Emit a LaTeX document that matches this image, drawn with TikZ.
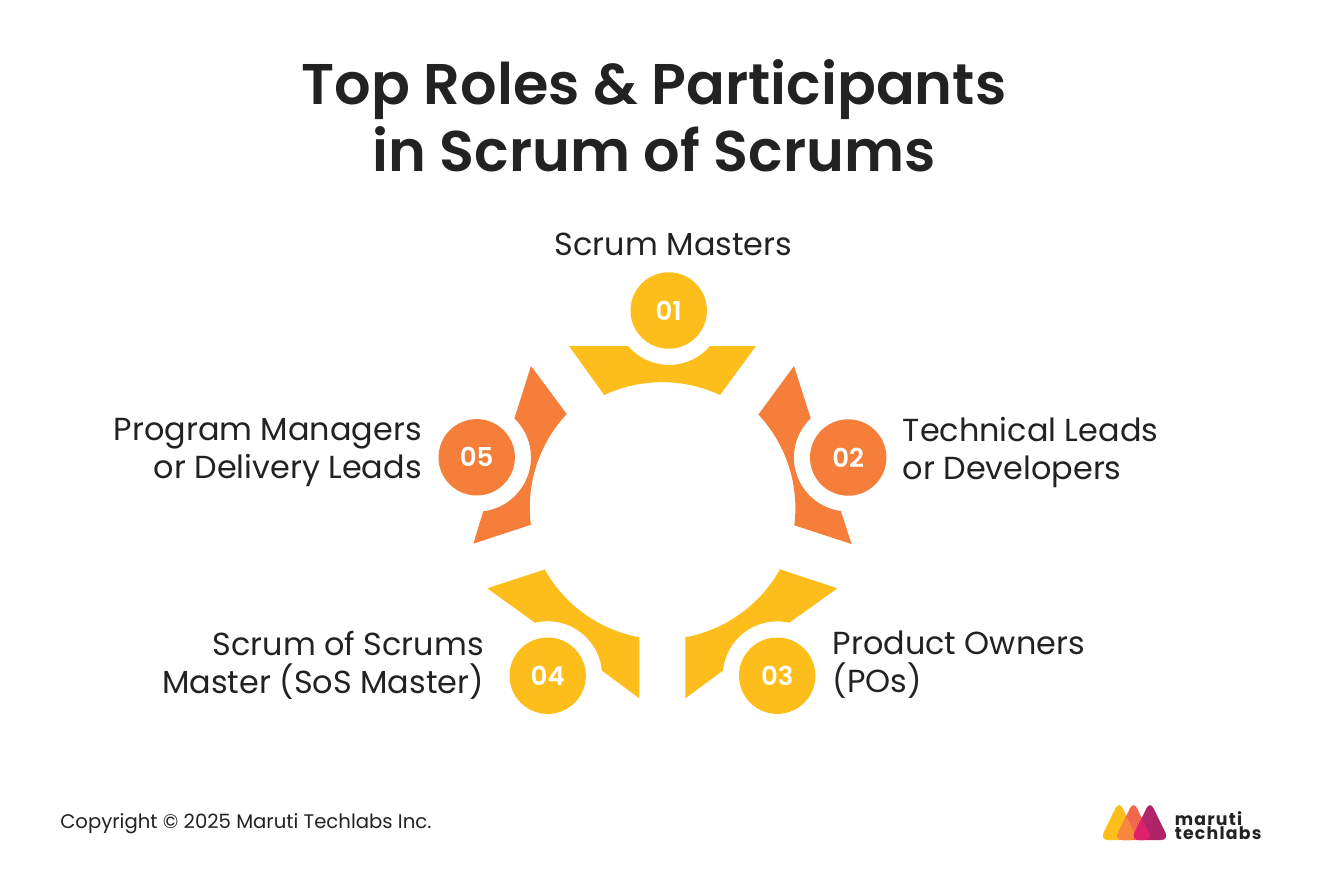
\documentclass[tikz,border=0pt]{standalone}
\usepackage{fontspec}
\setmainfont{Poppins}
\newfontfamily\semifont{Poppins SemiBold}
\definecolor{ink}{HTML}{222222}
\definecolor{sunny}{HTML}{FDBD1A}
\definecolor{tangerine}{HTML}{F47E3A}
\definecolor{logocoral}{HTML}{F2664F}
\definecolor{logomix}{HTML}{F6873C}
\definecolor{logomaroon}{HTML}{B0246A}
\definecolor{logopink}{HTML}{E01F6A}
\newcommand{\logodrop}[1]{[rounded corners=6pt] (#1-19,840) -- (#1,801) -- (#1+19,840) -- cycle}
\begin{document}
\begin{tikzpicture}[
    x=0.75pt, y=-0.75pt,
    title/.style={font=\fontsize{43}{50}\selectfont\semifont, align=center, text=ink, inner sep=0pt},
    role/.style={font=\fontsize{23.9}{28.5}\selectfont, text=ink, inner sep=0pt},
    badge/.style={circle, minimum size=57.3pt, inner sep=0pt, text=white, font=\fontsize{19.5}{19.5}\selectfont\semifont},
]
    \useasboundingbox (0,0) rectangle (1321,872);
    \fill[white] (0,0) rectangle (1321,872);

    \node[title] (heading) at (654,116) {Top Roles \& Participants\\in Scrum of Scrums};

    % petals, clockwise from the top
    \fill[sunny] (569,346) -- (628,346) arc[start angle=139.5, end angle=40.5, radius=54] -- (756,346) -- (720,395)
        arc[start angle=-65, end angle=-115, radius=137] -- cycle;
    \fill[tangerine] (794,366) -- (810.7,418.3) arc[start angle=226.5, end angle=97.4, radius=54] -- (851.5,544) -- (794.3,525.3)
        arc[start angle=7.2, end angle=-43.1, radius=137] -- cycle;
    \fill[sunny] (780,569.3) -- (837.3,588.3) -- (789.3,622.7) arc[start angle=-77.1, end angle=-174.6, radius=54.4] -- (685.3,698.3) -- (685.3,637.3)
        arc[start angle=79.5, end angle=29.1, radius=137] -- cycle;
    \fill[sunny] (545.3,569.3) -- (487.3,588.3) -- (535,622.7) arc[start angle=-103.5, end angle=-5.3, radius=54.4] -- (639.3,698.3) -- (639.3,637.3)
        arc[start angle=100.5, end angle=150.9, radius=137] -- cycle;
    \fill[tangerine] (531,366) -- (566.7,414) arc[start angle=223.1, end angle=172.8, radius=137] -- (473.3,543.7) -- (483.3,511.3)
        arc[start angle=83, end angle=-46, radius=54.3] -- cycle;

    \node[badge, fill=sunny] (one) at (668.7,310.5) {\raisebox{-1pt}{01}};
    \node[badge, fill=tangerine] (two) at (848.2,457.5) {\raisebox{-1pt}{02}};
    \node[badge, fill=sunny] (three) at (777.2,675.7) {\raisebox{-1pt}{03}};
    \node[badge, fill=sunny] (four) at (547.7,675.7) {\raisebox{-1pt}{04}};
    \node[badge, fill=tangerine] (five) at (476.7,457.3) {\raisebox{-1pt}{05}};

    \node[role, anchor=base] (masters) at (673.5,255) {Scrum Masters};
    \node[role, anchor=west, align=left] (leads) at (902.5,452.5) {Technical Leads\\or Developers};
    \node[role, anchor=west, align=left] (owners) at (832.5,665) {Product Owners\\(POs)};
    \node[role, anchor=east, align=right] (sos) at (484,665) {Scrum of Scrums\\Master (SoS Master)};
    \node[role, anchor=east, align=right] (managers) at (422,452.5) {Program Managers\\or Delivery Leads};

    \node[anchor=base west, inner sep=0pt, text=ink, font=\fontsize{14.75}{18}\selectfont] (copyright) at (60,828) {Copyright © 2025 Maruti Techlabs Inc.};

    % logo
    \fill[sunny] \logodrop{1119};
    \fill[logocoral] \logodrop{1133.5};
    \fill[logomaroon] \logodrop{1150};
    \begin{scope}
        \clip \logodrop{1119};
        \fill[logomix] \logodrop{1133.5};
    \end{scope}
    \begin{scope}
        \clip \logodrop{1133.5};
        \fill[logopink] \logodrop{1150};
    \end{scope}
    \node[anchor=west, align=left, inner sep=0pt, text=ink, font=\fontsize{13}{10.5}\selectfont\bfseries\addfontfeature{LetterSpace=7}] (brand) at (1174.5,826) {maruti\\techlabs};
\end{tikzpicture}
\end{document}
